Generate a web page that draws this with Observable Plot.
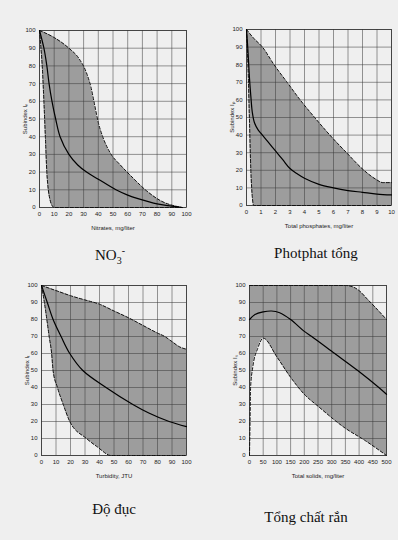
<!DOCTYPE html>
<html>
<head>
<meta charset="utf-8">
<script src="https://cdn.jsdelivr.net/npm/d3@7"></script>
<script src="https://cdn.jsdelivr.net/npm/@observablehq/plot@0.6"></script>
<style>
  html, body { margin: 0; padding: 0; }
  body { width: 398px; height: 540px; background: #efefef; position: relative; overflow: hidden; }
  .panel { position: absolute; }
  .cap { position: absolute; font-family: "Liberation Serif", "DejaVu Serif", serif; font-size: 15px; color: #111; transform: translate(-50%, -50%); white-space: nowrap; }
</style>
</head>
<body>
<div id="p1" class="panel" style="left:0px;top:15px"></div>
<div id="p2" class="panel" style="left:199px;top:14px"></div>
<div id="p3" class="panel" style="left:0px;top:270px"></div>
<div id="p4" class="panel" style="left:199px;top:270px"></div>
<div class="cap" style="left:110px;top:255px">NO<sub style="font-size:10px">3</sub><sup style="font-size:10px">-</sup></div>
<div class="cap" style="left:316px;top:253px">Photphat tổng</div>
<div class="cap" style="left:114px;top:509px">Độ đục</div>
<div class="cap" style="left:306px;top:517px">Tổng chất rắn</div>
<script>
// ---------- Panel 1: Nitrates ----------
const no3UpperX = [0, 10, 20, 27, 32, 35, 37.5, 40, 43, 48, 55, 62, 72, 82, 97];
const no3UpperY = [100, 96, 90, 84, 76, 68, 58, 48, 40, 31, 24, 18, 10, 4, 0];
const no3LowerX = [0, 1, 2, 3, 4, 5, 6, 7, 8, 10, 30, 50, 70, 90, 97];
const no3LowerY = [100, 90, 78, 60, 40, 20, 10, 5, 2, 0, 0, 0, 0, 0, 0];
const no3MeanX = [0, 3, 5, 6.5, 8.5, 11, 14, 20, 26, 32, 40, 52, 60, 67, 80, 90, 97];
const no3MeanY = [100, 90, 80, 70, 60, 50, 40, 30, 24, 20, 16, 10, 7, 5, 2, 0.8, 0];
const no3Ticks = [0, 10, 20, 30, 40, 50, 60, 70, 80, 90, 100];

// ---------- Panel 2: Total phosphates ----------
const pUpperX = [0, 0.5, 1.1, 1.9, 2.8, 3.7, 4.7, 5.75, 6.9, 8.1, 8.9, 9.4, 10];
const pUpperY = [100, 95, 90, 80, 70, 60, 50, 40, 30, 20, 15, 13, 13];
const pLowerX = [0, 0.05, 0.1, 0.2, 0.3, 0.4, 0.5, 2, 4, 6, 8, 9, 10];
const pLowerY = [100, 90, 80, 50, 20, 5, 0, 0, 0, 0, 0, 0, 0];
const pMeanX = [0, 0.1, 0.2, 0.3, 0.4, 0.55, 0.8, 1, 1.5, 2, 2.5, 3, 3.5, 4, 5, 6, 7, 8, 9, 10];
const pMeanY = [100, 88, 73, 62, 53, 47, 43, 41, 36, 31, 26, 21, 18, 15.5, 12, 10, 8.5, 7.5, 6.5, 6];
const pTicks = [0, 1, 2, 3, 4, 5, 6, 7, 8, 9, 10];

// ---------- Panel 3: Turbidity ----------
const tUpperX = [0, 10, 20, 30, 40, 50, 60, 70, 80, 85, 90, 95, 100];
const tUpperY = [100, 97, 94, 91.5, 89, 85, 81, 76.5, 72, 70, 67, 64, 62.5];
const tLowerX = [0, 2, 3.7, 5.3, 7, 8, 11, 15, 19.5, 31, 38.6, 48, 100];
const tLowerY = [100, 90, 80, 70, 60, 50, 40, 30, 20, 10, 5, 0, 0];
const tMeanX = [0, 4, 8, 13.5, 19.5, 28.5, 44.5, 63, 74, 88, 100];
const tMeanY = [100, 90, 80, 70, 60, 50, 40, 30, 25, 20, 17];
const tTicks = [0, 10, 20, 30, 40, 50, 60, 70, 80, 90, 100];

// ---------- Panel 4: Total solids ----------
const sUpperX = [0, 50, 100, 150, 200, 250, 300, 350, 380, 400, 430, 460, 500];
const sUpperY = [100, 100, 100, 100, 100, 100, 100, 100, 99, 97, 92, 87, 80];
const sLowerX = [0, 2, 4, 12, 30, 50, 100, 150, 200, 250, 350, 420, 500];
const sLowerY = [0, 20, 40, 52, 63, 69, 58, 46, 36, 29, 16, 9, 0];
const sMeanX = [0, 20, 50, 80, 110, 150, 200, 227, 311, 395, 472, 500];
const sMeanY = [80, 83, 84.5, 85, 84, 80, 73, 70, 60, 50, 40, 36];
const sTicks = [0, 50, 100, 150, 200, 250, 300, 350, 400, 450, 500];

const yTicks = [0, 10, 20, 30, 40, 50, 60, 70, 80, 90, 100];

function zip(xs, ys) { return xs.map((x, i) => ({x, y: ys[i]})); }

function panel(cfg) {
  const band = cfg.ux.map((x, i) => ({ux: x, uy: cfg.uy[i], lx: cfg.lx[i], ly: cfg.ly[i]}));
  const upper = zip(cfg.ux, cfg.uy);
  const lower = zip(cfg.lx, cfg.ly);
  const mean = zip(cfg.mx, cfg.my);
  return Plot.plot({
    width: cfg.width, height: cfg.height,
    marginLeft: cfg.ml, marginRight: cfg.mr, marginTop: cfg.mt, marginBottom: cfg.mb,
    style: {background: "transparent", fontFamily: "'Liberation Sans', Arial, sans-serif", fontSize: "6px", color: "#222"},
    x: {domain: cfg.xDomain, ticks: cfg.xTicks, tickFormat: d => String(d), label: cfg.xLabel, labelAnchor: "center", labelOffset: 22, labelArrow: "none", tickSize: 0, tickPadding: 4},
    y: {domain: [0, 100], ticks: yTicks, label: cfg.yLabel, labelAnchor: "center", labelOffset: 17, labelArrow: "none", tickSize: 0, tickPadding: 4},
    marks: [
      Plot.area(band, {x1: "lx", y1: "ly", x2: "ux", y2: "uy", fill: "#8e8e8e", fillOpacity: 0.85, curve: "monotone-x"}),
      Plot.gridX(cfg.xTicks, {stroke: "#3a3a3a", strokeOpacity: 0.75, strokeWidth: 0.7}),
      Plot.gridY(yTicks, {stroke: "#3a3a3a", strokeOpacity: 0.75, strokeWidth: 0.7}),
      Plot.frame({stroke: "#333", strokeWidth: 0.8}),
      Plot.line(upper, {x: "x", y: "y", stroke: "#111", strokeWidth: 1, strokeDasharray: "3,2", curve: "monotone-x"}),
      Plot.line(lower, {x: "x", y: "y", stroke: "#111", strokeWidth: 1, strokeDasharray: "3,2", curve: "monotone-x"}),
      Plot.line(mean, {x: "x", y: "y", stroke: "#000", strokeWidth: 1.2, curve: "catmull-rom"})
    ]
  });
}

document.getElementById("p1").append(panel({
  width: 199, height: 222, ml: 39, mr: 13, mt: 15, mb: 30,
  xDomain: [0, 100], xTicks: no3Ticks, xLabel: "Nitrates, mg/liter", yLabel: "Subindex Iₙ",
  ux: no3UpperX, uy: no3UpperY, lx: no3LowerX, ly: no3LowerY, mx: no3MeanX, my: no3MeanY
}));
document.getElementById("p2").append(panel({
  width: 199, height: 221, ml: 47, mr: 7, mt: 15, mb: 30,
  xDomain: [0, 10], xTicks: pTicks, xLabel: "Total phosphates, mg/liter", yLabel: "Subindex Iₚ",
  ux: pUpperX, uy: pUpperY, lx: pLowerX, ly: pLowerY, mx: pMeanX, my: pMeanY
}));
document.getElementById("p3").append(panel({
  width: 199, height: 215, ml: 41, mr: 13, mt: 15, mb: 30,
  xDomain: [0, 100], xTicks: tTicks, xLabel: "Turbidity, JTU", yLabel: "Subindex Iₜ",
  ux: tUpperX, uy: tUpperY, lx: tLowerX, ly: tLowerY, mx: tMeanX, my: tMeanY
}));
document.getElementById("p4").append(panel({
  width: 199, height: 215, ml: 50, mr: 12, mt: 15, mb: 30,
  xDomain: [0, 500], xTicks: sTicks, xLabel: "Total solids, mg/liter", yLabel: "Subindex Iₛ",
  ux: sUpperX, uy: sUpperY, lx: sLowerX, ly: sLowerY, mx: sMeanX, my: sMeanY
}));
</script>
</body>
</html>
